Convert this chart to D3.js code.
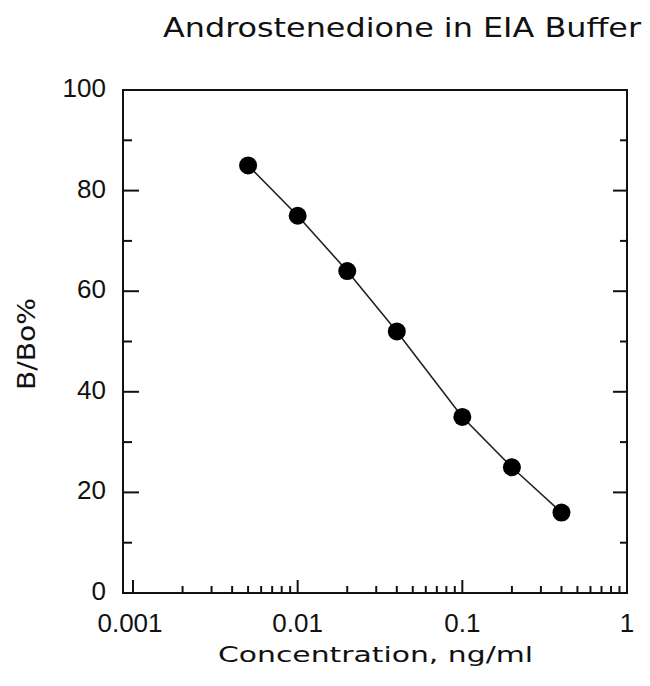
<!DOCTYPE html>
<meta charset="utf-8">
<script src="https://d3js.org/d3.v7.min.js"></script>
<style>
  body { margin: 0; background: #fff; }
  .tick-label { font-family: "Liberation Sans", Arial, sans-serif; font-size: 26px; fill: #111; }
  .title { font-family: "DejaVu Sans", sans-serif; fill: #111; }
</style>
<body></body>
<script>
// concentration (ng/ml) and B/Bo%
var conc  = [0.005, 0.01, 0.02, 0.04, 0.1, 0.2, 0.4];
var bbo   = [85, 75, 64, 52, 35, 25, 16];
var xTickValues = [0.001, 0.01, 0.1, 1];
var xTickLabels = ["0.001", "0.01", "0.1", "1"];
var yTickValues = [0, 20, 40, 60, 80, 100];

var width = 650, height = 686;
var plotL = 123, plotR = 627, plotT = 90, plotB = 593;

var svg = d3.select("body").append("svg")
    .attr("width", width)
    .attr("height", height);

// log x: 0.001 sits a bit inside the left frame
var x = d3.scaleLog().domain([0.001, 1]).range([133, plotR]);
var y = d3.scaleLinear().domain([0, 100]).range([plotB, plotT]);

// minor x ticks 2..9 in each decade
var xMinor = [];
[0.001, 0.01, 0.1].forEach(function(d) {
  for (var k = 2; k <= 9; k++) xMinor.push(d * k);
});
var yMinor = d3.range(10, 100, 20);

var g = svg.append("g");

function hTicks(data, x0, len) {
  g.append("g").selectAll("line").data(data).enter().append("line")
    .attr("x1", x0).attr("x2", x0 + len)
    .attr("y1", function(d) { return y(d); }).attr("y2", function(d) { return y(d); })
    .attr("stroke", "#111").attr("stroke-width", 2);
}
hTicks(yTickValues, plotL, 16);
hTicks(yMinor, plotL, 9);
hTicks(yTickValues, plotR, -14);
hTicks(yMinor, plotR, -7);

function vTicks(data, len) {
  g.append("g").selectAll("line").data(data).enter().append("line")
    .attr("x1", function(d) { return x(d); }).attr("x2", function(d) { return x(d); })
    .attr("y1", plotB).attr("y2", plotB - len)
    .attr("stroke", "#111").attr("stroke-width", 2);
}
vTicks(xTickValues, 13);
vTicks(xMinor, 7);

// frame
svg.append("rect")
  .attr("x", plotL).attr("y", plotT)
  .attr("width", plotR - plotL).attr("height", plotB - plotT)
  .attr("fill", "none").attr("stroke", "#111").attr("stroke-width", 2);

// tick labels
svg.append("g").selectAll("text").data(yTickValues).enter().append("text")
  .attr("class", "tick-label")
  .attr("x", 106).attr("y", function(d) { return y(d) + 7; })
  .attr("text-anchor", "end")
  .text(function(d) { return d; });

svg.append("g").selectAll("text").data(xTickValues).enter().append("text")
  .attr("class", "tick-label")
  .attr("x", function(d, i) { return x(d) - (i == 0 ? 3 : 0); }).attr("y", 632)
  .attr("text-anchor", "middle")
  .text(function(d, i) { return xTickLabels[i]; });

// curve + points
var pts = conc.map(function(c, i) { return [c, bbo[i]]; });
var line = d3.line()
  .x(function(d) { return x(d[0]); })
  .y(function(d) { return y(d[1]); });

svg.append("path")
  .attr("d", line(pts))
  .attr("fill", "none").attr("stroke", "#222").attr("stroke-width", 1.6);

svg.append("g").selectAll("circle").data(pts).enter().append("circle")
  .attr("cx", function(d) { return x(d[0]); })
  .attr("cy", function(d) { return y(d[1]); })
  .attr("r", 9)
  .attr("fill", "#000");

// titles
svg.append("text").attr("class", "title")
  .attr("x", 163).attr("y", 37)
  .attr("font-size", 27)
  .attr("textLength", 478).attr("lengthAdjust", "spacingAndGlyphs")
  .text("Androstenedione in EIA Buffer");

svg.append("text").attr("class", "title")
  .attr("x", 218).attr("y", 662)
  .attr("font-size", 22)
  .attr("textLength", 315).attr("lengthAdjust", "spacingAndGlyphs")
  .text("Concentration, ng/ml");

svg.append("text").attr("class", "title")
  .attr("transform", "translate(35,390) rotate(-90)")
  .attr("font-size", 24)
  .attr("textLength", 92).attr("lengthAdjust", "spacingAndGlyphs")
  .text("B/Bo%");
</script>
